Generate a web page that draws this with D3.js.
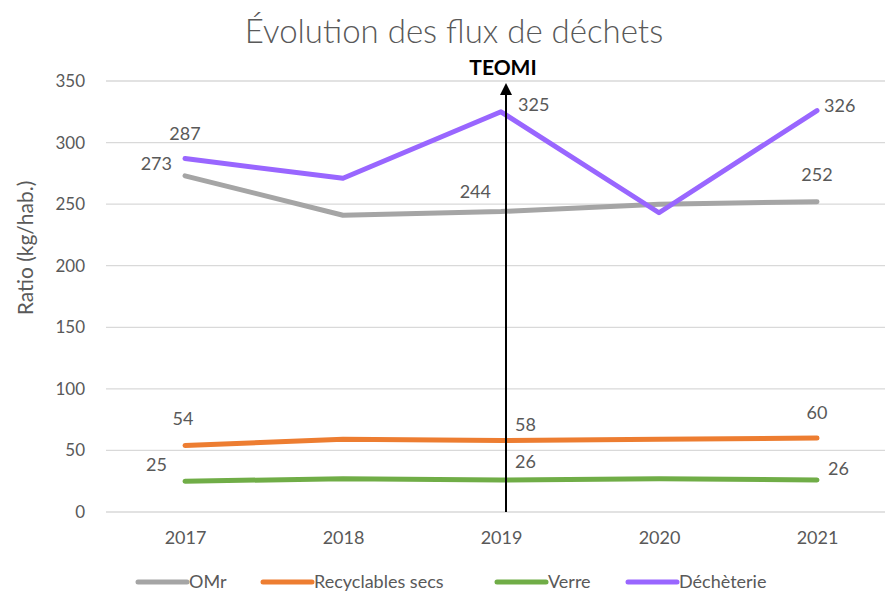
<!DOCTYPE html>
<html>
<head>
<meta charset="utf-8">
<script src="https://cdn.jsdelivr.net/npm/d3@7"></script>
<style>
    body { margin: 0; background: #fff; }
    svg { display: block; font-family: 'Lato', 'Open Sans', sans-serif; }
</style>
</head>
<body>
<div id="chart"></div>
<script>
// Data
const years = ['2017', '2018', '2019', '2020', '2021'];
const omr = [273, 241, 244, 250, 252];
const recyclables = [54, 59, 58, 59, 60];
const verre = [25, 27, 26, 27, 26];
const decheterie = [287, 271, 325, 243, 326];
const yTicks = [0, 50, 100, 150, 200, 250, 300, 350];
const labelledYears = ['2017', '2019', '2021'];

const series = [
    { name: 'OMr', values: omr, color: '#a5a5a5' },
    { name: 'Recyclables secs', values: recyclables, color: '#ed7d31' },
    { name: 'Verre', values: verre, color: '#70ad47' },
    { name: 'Déchèterie', values: decheterie, color: '#9966ff' }
];

// label offsets (dx, dy, anchor) per series, per labelled year
const labelPlacement = {
    'OMr': [[-13, -12, 'end'], [-10, -20, 'end'], [0, -27, 'middle']],
    'Recyclables secs': [[-2, -27, 'middle'], [14, -16, 'start'], [0, -25, 'middle']],
    'Verre': [[-18, -17, 'end'], [14, -18, 'start'], [11, -11, 'start']],
    'Déchèterie': [[0, -25, 'middle'], [17, -7, 'start'], [7, -5, 'start']]
};

const width = 885;
const height = 599;
const margin = { top: 81, right: -11, bottom: 87, left: 106 };
const textColor = '#595959';

const svg = d3.select('#chart')
    .append('svg')
    .attr('width', width)
    .attr('height', height);

const x = d3.scalePoint()
    .domain(years)
    .range([margin.left, width - margin.right])
    .padding(0.5);

const y = d3.scaleLinear()
    .domain([0, 350])
    .range([height - margin.bottom, margin.top]);

// gridlines
svg.append('g')
    .selectAll('line')
    .data(yTicks)
    .join('line')
    .attr('x1', margin.left)
    .attr('x2', width)
    .attr('y1', d => y(d))
    .attr('y2', d => y(d))
    .attr('stroke', '#d9d9d9')
    .attr('stroke-width', 1.3);

// y axis
const yAxis = svg.append('g')
    .attr('transform', `translate(${margin.left - 18},0)`)
    .call(d3.axisLeft(y).tickValues(yTicks).tickSize(0));
yAxis.select('.domain').remove();
yAxis.selectAll('text')
    .attr('fill', textColor)
    .attr('font-size', '17px')
    .attr('font-family', "'Lato', sans-serif");

// x axis
const xAxis = svg.append('g')
    .attr('transform', `translate(0,${y(0) + 15})`)
    .call(d3.axisBottom(x).tickSize(0));
xAxis.select('.domain').remove();
xAxis.selectAll('text')
    .attr('fill', textColor)
    .attr('font-size', '18px')
    .attr('font-family', "'Lato', sans-serif")
    .attr('dy', '0.75em');

// title
svg.append('text')
    .attr('x', 454)
    .attr('y', 43)
    .attr('text-anchor', 'middle')
    .attr('fill', textColor)
    .attr('font-size', '33px')
    .attr('font-weight', 300)
    .text('Évolution des flux de déchets');

// y axis title
svg.append('text')
    .attr('transform', 'rotate(-90)')
    .attr('x', -248)
    .attr('y', 33)
    .attr('text-anchor', 'middle')
    .attr('fill', textColor)
    .attr('font-size', '21px')
    .text('Ratio (kg/hab.)');

// lines
const line = d3.line()
    .x((d, i) => x(years[i]))
    .y(d => y(d));

svg.append('g')
    .selectAll('path')
    .data(series)
    .join('path')
    .attr('d', d => line(d.values))
    .attr('fill', 'none')
    .attr('stroke', d => d.color)
    .attr('stroke-width', 5)
    .attr('stroke-linejoin', 'round')
    .attr('stroke-linecap', 'round');

// data labels
series.forEach(s => {
    labelledYears.forEach((yr, k) => {
        const i = years.indexOf(yr);
        const p = labelPlacement[s.name][k];
        svg.append('text')
            .attr('x', x(yr) + p[0])
            .attr('y', y(s.values[i]) + p[1])
            .attr('dy', '0.35em')
            .attr('text-anchor', p[2])
            .attr('fill', textColor)
            .attr('font-size', '18px')
            .text(s.values[i]);
    });
});

// TEOMI arrow
svg.append('defs').append('marker')
    .attr('id', 'arrow')
    .attr('viewBox', '0 0 10 10')
    .attr('refX', 5)
    .attr('refY', 5)
    .attr('markerWidth', 6)
    .attr('markerHeight', 6)
    .attr('orient', 'auto')
    .attr('markerUnits', 'strokeWidth')
    .append('path')
    .attr('d', 'M0,0 L10,5 L0,10 Z')
    .attr('fill', '#000');

svg.append('line')
    .attr('x1', x('2019') + 5)
    .attr('x2', x('2019') + 5)
    .attr('y1', y(0))
    .attr('y2', y(350) + 8)
    .attr('stroke', '#000')
    .attr('stroke-width', 2)
    .attr('marker-end', 'url(#arrow)');

svg.append('text')
    .attr('x', x('2019') + 2)
    .attr('y', 75)
    .attr('text-anchor', 'middle')
    .attr('fill', '#000')
    .attr('font-size', '21px')
    .attr('font-weight', 'bold')
    .text('TEOMI');

// legend
const legendX = [138, 263, 497, 628];
const legend = svg.append('g')
    .selectAll('g')
    .data(series)
    .join('g')
    .attr('transform', (d, i) => `translate(${legendX[i]},582)`);

legend.append('line')
    .attr('x1', 0)
    .attr('x2', 49)
    .attr('stroke', d => d.color)
    .attr('stroke-width', 5)
    .attr('stroke-linecap', 'round');

legend.append('text')
    .attr('x', 51)
    .attr('dy', '0.35em')
    .attr('fill', textColor)
    .attr('font-size', '18px')
    .text(d => d.name);
</script>
</body>
</html>
